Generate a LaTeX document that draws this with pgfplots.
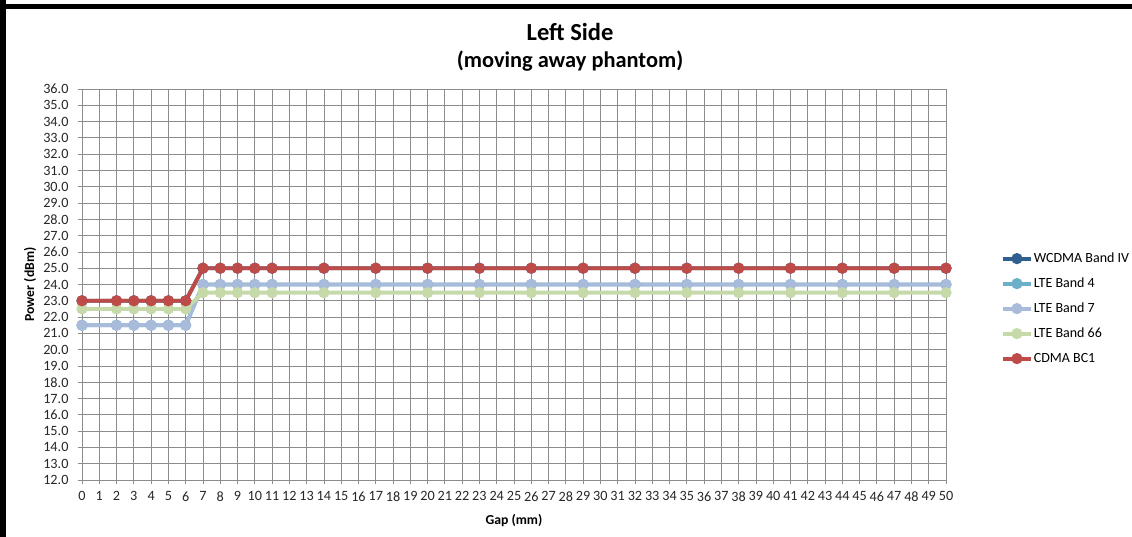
\documentclass[border=0pt]{standalone}
\usepackage{fontspec}
\setmainfont{Carlito}
\usepackage{pgfplots}
\pgfplotsset{compat=1.18}
\definecolor{cwcdma}{HTML}{2F5F8F}
\definecolor{clte4}{HTML}{6BAFC8}
\definecolor{clte7}{HTML}{A8BBDB}
\definecolor{clte66}{HTML}{C6D9A9}
\definecolor{ccdma}{HTML}{BE4B48}
\definecolor{gridc}{HTML}{8C8C8C}
\begin{document}
\begin{tikzpicture}
\begin{axis}[
  name=main,
  anchor=south west, at={(0pt,0pt)},
  scale only axis, width=864pt, height=391pt,
  xmin=0, xmax=50, ymin=12, ymax=36,
  xtick={0,...,50}, ytick={12,...,36},
  grid=major,
  grid style={gridc, line width=0.8pt},
  axis line style={gridc, line width=0.8pt},
  major tick style={gridc, line width=0.8pt},
  tick align=outside, major tick length=4pt,
  xtick pos=left, ytick pos=left,
  yticklabel style={/pgf/number format/.cd, fixed, fixed zerofill, precision=1, /tikz/.cd, xshift=-6pt},
  xticklabel style={yshift=-4pt},
  /pgf/number format/assume math mode=true,
  tick label style={font=\fontsize{14.2}{16}\selectfont, text=black!85},
  xlabel={Gap (mm)}, ylabel={Power (dBm)},
  every axis x label/.style={at={(axis description cs:0.5,-0.1023)}, anchor=center, font=\fontsize{13.7}{16}\selectfont\bfseries},
  every axis y label/.style={at={(axis description cs:-0.0602,0.5)}, rotate=90, anchor=center, font=\fontsize{13.7}{16}\selectfont\bfseries},
  legend style={draw=none, fill=none, at={(axis description cs:1.06,0.591)}, anchor=north west,
    font=\fontsize{14}{16}\selectfont, row sep=10pt,
    nodes={inner sep=1pt, text height=10pt, text depth=3pt}},
  legend cell align=left,
  legend image code/.code={\draw[mark repeat=2,mark phase=2] plot coordinates {(0pt,0pt)(14pt,0pt)(28pt,0pt)};},
  every axis plot/.append style={line width=3.8pt, mark=*, mark size=3.6pt, mark options={solid}},
]
\addplot[cwcdma, mark options={fill=cwcdma}] coordinates {(0,23)(2,23)(3,23)(4,23)(5,23)(6,23)(7,25)(8,25)(9,25)(10,25)(11,25)(14,25)(17,25)(20,25)(23,25)(26,25)(29,25)(32,25)(35,25)(38,25)(41,25)(44,25)(47,25)(50,25)};
\addlegendentry{WCDMA Band IV}
\addplot[clte4, mark options={fill=clte4}] coordinates {(0,21.5)(2,21.5)(3,21.5)(4,21.5)(5,21.5)(6,21.5)(7,24)(8,24)(9,24)(10,24)(11,24)(14,24)(17,24)(20,24)(23,24)(26,24)(29,24)(32,24)(35,24)(38,24)(41,24)(44,24)(47,24)(50,24)};
\addlegendentry{LTE Band 4}
\addplot[clte7, mark options={fill=clte7}] coordinates {(0,21.5)(2,21.5)(3,21.5)(4,21.5)(5,21.5)(6,21.5)(7,24)(8,24)(9,24)(10,24)(11,24)(14,24)(17,24)(20,24)(23,24)(26,24)(29,24)(32,24)(35,24)(38,24)(41,24)(44,24)(47,24)(50,24)};
\addlegendentry{LTE Band 7}
\addplot[clte66, mark options={fill=clte66}] coordinates {(0,22.5)(2,22.5)(3,22.5)(4,22.5)(5,22.5)(6,22.5)(7,23.5)(8,23.5)(9,23.5)(10,23.5)(11,23.5)(14,23.5)(17,23.5)(20,23.5)(23,23.5)(26,23.5)(29,23.5)(32,23.5)(35,23.5)(38,23.5)(41,23.5)(44,23.5)(47,23.5)(50,23.5)};
\addlegendentry{LTE Band 66}
\addplot[ccdma, mark options={fill=ccdma}] coordinates {(0,23)(2,23)(3,23)(4,23)(5,23)(6,23)(7,25)(8,25)(9,25)(10,25)(11,25)(14,25)(17,25)(20,25)(23,25)(26,25)(29,25)(32,25)(35,25)(38,25)(41,25)(44,25)(47,25)(50,25)};
\addlegendentry{CDMA BC1}
\end{axis}
% image frame: top-left at (-82pt,480pt), bottom-right at (1050pt,-57pt)
\fill[black] (-82pt,476pt) rectangle (1050pt,471pt);
\fill[black] (-82pt,480pt) rectangle (-76pt,-57pt);
\node[font=\fontsize{24.5}{28}\selectfont\bfseries, anchor=base] at (488pt,439pt) {Left Side};
\node[font=\fontsize{22.4}{26}\selectfont\bfseries, anchor=base] at (488pt,412pt) {(moving away phantom)};
\pgfresetboundingbox
\path (-82pt,480pt) rectangle (1050pt,-57pt);
\end{tikzpicture}
\end{document}
